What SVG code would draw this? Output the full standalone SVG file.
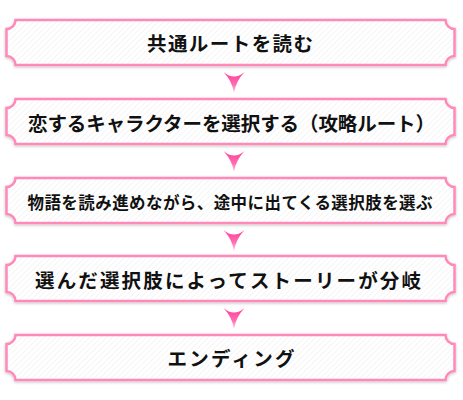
<svg xmlns="http://www.w3.org/2000/svg" width="463" height="400" viewBox="0 0 463 400">
<defs>
<pattern id="hatch" width="4" height="4" patternUnits="userSpaceOnUse" patternTransform="rotate(45)">
<rect width="4" height="4" fill="#ffffff"/>
<line x1="0" y1="0" x2="0" y2="4" stroke="#f1f1f1" stroke-width="1.3"/>
</pattern>
<linearGradient id="arrowGrad" x1="0" y1="0" x2="0" y2="1">
<stop offset="0" stop-color="#ff3a98"/>
<stop offset="0.6" stop-color="#ff6fb4"/>
<stop offset="1" stop-color="#ffd0e6"/>
</linearGradient>
<filter id="shadow" x="-5%" y="-20%" width="110%" height="140%">
<feDropShadow dx="0" dy="1" stdDeviation="1.5" flood-color="#000000" flood-opacity="0.25"/>
</filter>
<path id="boxShape" d="M9,0 H439 A9,9 0 0 0 448,9 V36 A9,9 0 0 0 439,45 H9 A9,9 0 0 0 0,36 V9 A9,9 0 0 0 9,0 Z"/>
<path id="arrowShape" d="M-10.5,0 Q0,9 10.5,0 Q2,9 0,21 Q-2,9 -10.5,0 Z"/>
</defs>
<style>
.box{fill:url(#hatch);stroke:#ff8ab9;stroke-width:2.5;filter:url(#shadow)}
.label{font-family:"Noto Sans CJK JP","Noto Sans",sans-serif;font-weight:bold;fill:#111111;text-anchor:middle;dominant-baseline:central}
.big{font-size:19.5px}
.small{font-size:16.5px}
.arrow{fill:url(#arrowGrad)}
</style>
<g id="connectors">
<use href="#arrowShape" class="arrow" x="234" y="72"/>
<use href="#arrowShape" class="arrow" x="234" y="151"/>
<use href="#arrowShape" class="arrow" x="234" y="230"/>
<use href="#arrowShape" class="arrow" x="234" y="308"/>
</g>
<g id="node1">
<use href="#boxShape" class="box" x="6.5" y="20"/>
<text class="label big" x="230" y="42.5" textLength="166" lengthAdjust="spacing">共通ルートを読む</text>
</g>
<g id="node2">
<use href="#boxShape" class="box" x="6.5" y="99"/>
<text class="label big" x="231.5" y="122" textLength="407" lengthAdjust="spacing">恋するキャラクターを選択する（攻略ルート）</text>
</g>
<g id="node3">
<use href="#boxShape" class="box" x="6.5" y="178"/>
<text class="label small" x="230" y="202" textLength="405" lengthAdjust="spacing">物語を読み進めながら、途中に出てくる選択肢を選ぶ</text>
</g>
<g id="node4">
<use href="#boxShape" class="box" x="6.5" y="256"/>
<text class="label big" x="228" y="279.5" textLength="386" lengthAdjust="spacing">選んだ選択肢によってストーリーが分岐</text>
</g>
<g id="node5">
<use href="#boxShape" class="box" x="6.5" y="335"/>
<text class="label big" x="231" y="357.5" textLength="127" lengthAdjust="spacing">エンディング</text>
</g>
</svg>
